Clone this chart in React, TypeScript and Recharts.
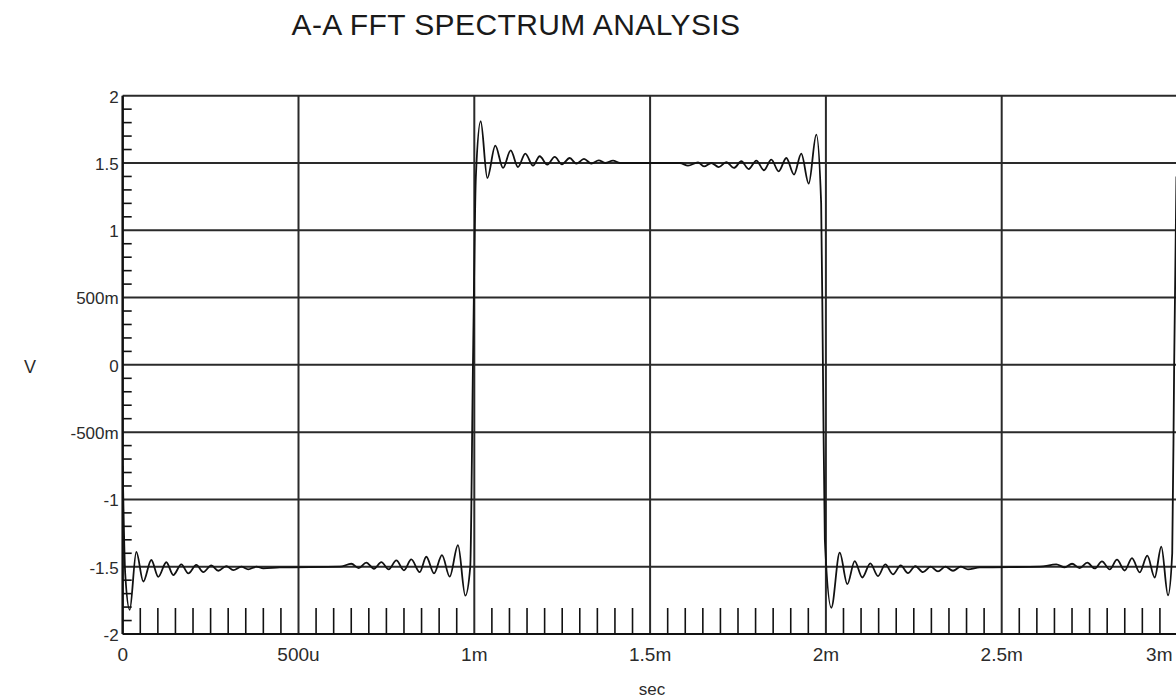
import { LineChart, Line, XAxis, YAxis, CartesianGrid } from 'recharts';

// axis ticks (time in ms, volts)
const X_MAJOR = [0, 0.5, 1, 1.5, 2, 2.5, 3];
const X_LABELS = ['0', '500u', '1m', '1.5m', '2m', '2.5m', '3m'];
const Y_MAJOR = [2, 1.5, 1, 0.5, 0, -0.5, -1, -1.5, -2];
const Y_LABELS = ['2', '1.5', '1', '500m', '0', '-500m', '-1', '-1.5', '-2'];

// minor ticks: 50u steps on x, 100m steps on y
const X_MINOR = Array.from({ length: 59 }, (_, i) => +(i * 0.05 + 0.05).toFixed(2)).filter(
  (t) => !X_MAJOR.includes(t),
);
const Y_MINOR = Array.from({ length: 39 }, (_, i) => +(-1.9 + i * 0.1).toFixed(1)).filter(
  (v) => !Y_MAJOR.includes(v),
);
const X_TICKS = [...X_MAJOR, ...X_MINOR].sort((a, b) => a - b);
const Y_TICKS = [...Y_MAJOR, ...Y_MINOR].sort((a, b) => a - b);

// waveform samples: [time ms, volts]
const lowFirst: [number, number][] = [
  [0, -0.75], [0.0071, -1.55], [0.0199, -1.82], [0.0387, -1.39], [0.0586, -1.61],
  [0.0813, -1.45], [0.1013, -1.575], [0.124, -1.467], [0.1439, -1.562], [0.1667, -1.483],
  [0.1866, -1.55], [0.2093, -1.487], [0.2292, -1.54], [0.252, -1.49], [0.2719, -1.53],
  [0.2947, -1.495], [0.3146, -1.525], [0.3373, -1.5], [0.3572, -1.52], [0.38, -1.5],
  [0.3999, -1.512], [0.447, -1.505], [0.618, -1.5],
  [0.6502, -1.478], [0.6712, -1.51], [0.6928, -1.47], [0.7147, -1.515], [0.7355, -1.466],
  [0.7565, -1.52], [0.7782, -1.453], [0.8, -1.527], [0.8208, -1.446], [0.8447, -1.54],
  [0.8635, -1.426], [0.8854, -1.55], [0.9081, -1.414], [0.93, -1.574], [0.9536, -1.34],
  [0.9744, -1.715],
];

const riseAt1m: [number, number][] = [
  [0.9885, -1.5], [0.9962, 0.0], [1.0045, 1.4],
];

const highLevel: [number, number][] = [
  [1.0182, 1.81], [1.037, 1.389], [1.0597, 1.629], [1.0816, 1.463], [1.1035, 1.594],
  [1.1243, 1.47], [1.1451, 1.57], [1.167, 1.48], [1.186, 1.55], [1.2076, 1.488],
  [1.2287, 1.545], [1.2494, 1.49], [1.2713, 1.537], [1.2901, 1.495], [1.312, 1.53],
  [1.3328, 1.496], [1.3538, 1.52], [1.3726, 1.5], [1.3945, 1.518], [1.4144, 1.5],
  [1.585, 1.5],
  [1.6078, 1.48], [1.6363, 1.505], [1.6533, 1.475], [1.6741, 1.5], [1.6951, 1.47],
  [1.7167, 1.507], [1.7386, 1.463], [1.7594, 1.513], [1.7804, 1.455], [1.802, 1.518],
  [1.8239, 1.446], [1.8447, 1.525], [1.8657, 1.438], [1.8874, 1.537], [1.9093, 1.414],
  [1.93, 1.57], [1.9511, 1.347], [1.9727, 1.711],
];

const fallAt2m: [number, number][] = [
  [1.9865, 1.2], [1.9915, 0.0], [1.997, -1.3],
];

const lowSecond: [number, number][] = [
  [2.0154, -1.805], [2.0393, -1.396], [2.0609, -1.63], [2.0819, -1.458], [2.1035, -1.58],
  [2.1263, -1.475], [2.1482, -1.57], [2.1689, -1.483], [2.1908, -1.557], [2.2127, -1.49],
  [2.2335, -1.548], [2.2543, -1.495], [2.2762, -1.54], [2.2981, -1.5], [2.3188, -1.535],
  [2.3396, -1.5], [2.3615, -1.53], [2.3834, -1.5], [2.4041, -1.52], [2.438, -1.505],
  [2.609, -1.5],
  [2.6553, -1.483], [2.6792, -1.505], [2.7, -1.478], [2.7218, -1.51], [2.7434, -1.47],
  [2.7645, -1.513], [2.7852, -1.46], [2.8072, -1.52], [2.8279, -1.448], [2.8498, -1.528],
  [2.8706, -1.436], [2.8925, -1.542], [2.9141, -1.418], [2.9352, -1.58], [2.9539, -1.35],
  [2.973, -1.713],
];

const riseAt3m: [number, number][] = [
  [2.985, -1.4], [2.9905, 0.0], [2.997, 1.4],
];

const data = [...lowFirst, ...riseAt1m, ...highLevel, ...fallAt2m, ...lowSecond, ...riseAt3m].map(
  ([t, v]) => ({ t, v }),
);

const FONT = '"Liberation Sans", Arial, Helvetica, sans-serif';
const TEXT = '#2b2b2b';
const X_TICK_MARGIN = 13.5;
const Y_TICK_MARGIN = 4;

// major ticks get a label, minor ones a short mark pointing into the plot
const XTick = (props: any) => {
  const { x, y, payload } = props;
  const i = X_MAJOR.indexOf(payload.value);
  if (i < 0) {
    const base = y - X_TICK_MARGIN;
    return <line x1={x} x2={x} y1={base} y2={base - 26} stroke="#111" strokeWidth={1.6} />;
  }
  const last = i === X_MAJOR.length - 1;
  return (
    <text
      x={last ? x - 5 : x}
      y={y}
      dy="0.71em"
      textAnchor={last ? 'end' : 'middle'}
      fontSize={19}
      fontFamily={FONT}
      fill={TEXT}
    >
      {X_LABELS[i]}
    </text>
  );
};

const YTick = (props: any) => {
  const { x, y, payload } = props;
  const i = Y_MAJOR.indexOf(payload.value);
  if (i < 0) {
    const base = x + Y_TICK_MARGIN;
    return <line x1={base} x2={base + 9} y1={y} y2={y} stroke="#111" strokeWidth={1.6} />;
  }
  return (
    <text x={x} y={y} dy="0.4em" textAnchor="end" fontSize={17} fontFamily={FONT} fill={TEXT}>
      {Y_LABELS[i]}
    </text>
  );
};

export default function App() {
  return (
    <div
      style={{
        position: 'absolute',
        left: 0,
        top: 0,
        width: 1176,
        height: 698,
        overflow: 'hidden',
        background: '#ffffff',
        fontFamily: FONT,
      }}
    >
      <div
        style={{
          position: 'absolute',
          left: 516,
          top: 25,
          transform: 'translate(-50%, -50%)',
          fontSize: 30,
          letterSpacing: 0.4,
          color: '#1a1a1a',
          whiteSpace: 'nowrap',
          lineHeight: 1,
        }}
      >
        A-A FFT SPECTRUM ANALYSIS
      </div>
      <div
        style={{
          position: 'absolute',
          left: 30,
          top: 367,
          transform: 'translate(-50%, -50%)',
          fontSize: 18,
          color: TEXT,
          lineHeight: 1,
        }}
      >
        V
      </div>
      <div
        style={{
          position: 'absolute',
          left: 652,
          top: 689,
          transform: 'translate(-50%, -50%)',
          fontSize: 17,
          color: TEXT,
          lineHeight: 1,
        }}
      >
        sec
      </div>

      <LineChart
        width={1200}
        height={698}
        data={data}
        margin={{ top: 95.7, right: 22.5, bottom: 34, left: 62.7 }}
      >
        <CartesianGrid
          stroke="#2a2a2a"
          strokeWidth={2}
          verticalValues={X_MAJOR}
          horizontalValues={Y_MAJOR}
        />
        <XAxis
          dataKey="t"
          type="number"
          domain={[0, 3]}
          allowDataOverflow
          ticks={X_TICKS}
          interval={0}
          height={30}
          tickLine={false}
          tickSize={0}
          tickMargin={X_TICK_MARGIN}
          tick={XTick}
          axisLine={{ stroke: '#111', strokeWidth: 2.2 }}
        />
        <YAxis
          type="number"
          domain={[-2, 2]}
          allowDataOverflow
          ticks={Y_TICKS}
          interval={0}
          width={60}
          tickLine={false}
          tickSize={0}
          tickMargin={Y_TICK_MARGIN}
          tick={YTick}
          axisLine={{ stroke: '#111', strokeWidth: 2.2 }}
        />
        <Line
          dataKey="v"
          type="monotone"
          stroke="#111"
          strokeWidth={1.8}
          dot={false}
          isAnimationActive={false}
        />
      </LineChart>
    </div>
  );
}
